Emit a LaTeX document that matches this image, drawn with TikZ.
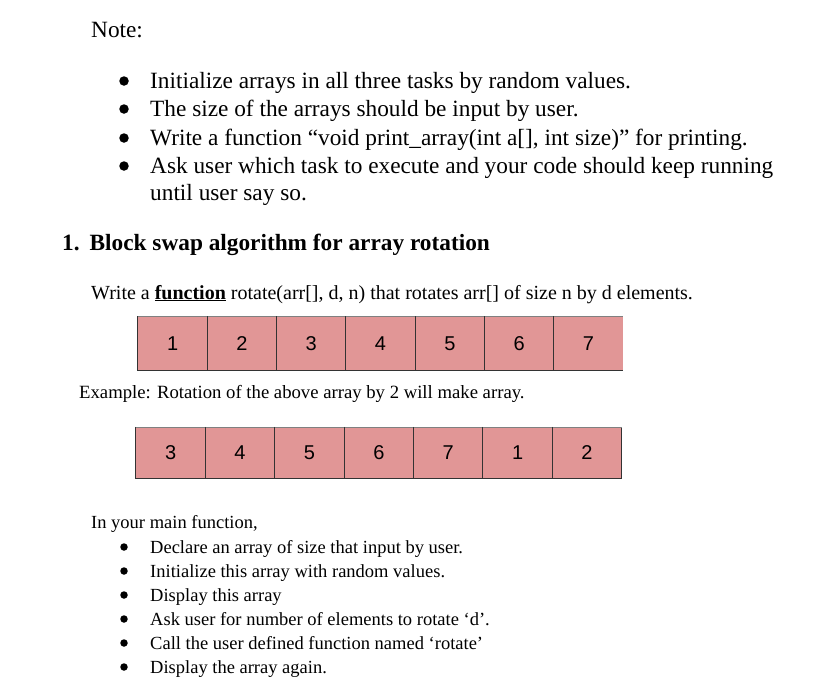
\documentclass[tikz,border=0pt]{standalone}
\usepackage{fontspec}
\setmainfont{Liberation Serif}
\newfontfamily\digitfont{Liberation Sans}
\definecolor{cellred}{RGB}{225,150,150}
\tikzset{
 big/.style={anchor=base west,inner sep=0pt,font=\fontsize{23.3}{26}\selectfont},
 small/.style={anchor=base west,inner sep=0pt,font=\fontsize{18.5}{20}\selectfont},
 cell/.style={fill=cellred,minimum width=69.3pt,minimum height=54pt,inner sep=0pt,font=\digitfont\fontsize{20}{22}\selectfont},
 dot/.style={circle,fill=black,inner sep=0pt,minimum size=9.5pt},
 sdot/.style={circle,fill=black,inner sep=0pt,minimum size=7.5pt},
}
\begin{document}
\begin{tikzpicture}[x=1pt,y=-1pt]
\useasboundingbox[fill=white] (0,0) rectangle (826,689);
\node[big] (note) at (91,37) {Note:};
\node[dot] (d1) at (124,81) {};
\node[big] (b1) at (150,88) {Initialize arrays in all three tasks by random values.};
\node[dot] (d2) at (124,109) {};
\node[big] (b2) at (150,116) {The size of the arrays should be input by user.};
\node[dot] (d3) at (124,138) {};
\node[big] (b3) at (150,145) {Write a function “void print\_array(int a[], int size)” for printing.};
\node[dot] (d4) at (124,166) {};
\node[big] (b4) at (150,173) {Ask user which task to execute and your code should keep running};
\node[big] (b5) at (150,200) {until user say so.};
\node[big,font=\bfseries\fontsize{23.3}{26}\selectfont] (h) at (62,250) {1.\hspace{10pt}Block swap algorithm for array rotation};
\node[small,font=\fontsize{20}{22}\selectfont] (w) at (91,299) {Write a \textbf{\underline{function}} rotate(arr[], d, n) that rotates arr[] of size n by d elements.};
\foreach \v [count=\i] in {1,...,7}{
 \node[cell] (a\i) at ({138+34.65+(\i-1)*69.3},343.5) {\v};
}
\draw[line width=1pt,black!80] (a1.north west) -- (a1.south west) -- (a7.south east);
\draw[line width=0.4pt,black!50] (a1.north west) -- (a7.north east);
\foreach \i in {2,...,7}{\draw[line width=1pt,black!80] (a\i.north west) -- (a\i.south west);}
\node[small,font=\fontsize{18.7}{20}\selectfont] (ex) at (79,398) {Example: Rotation of the above array by 2 will make array.};
\foreach \v [count=\i] in {3,4,5,6,7,1,2}{
 \node[cell,minimum height=51pt] (c\i) at ({136+34.65+(\i-1)*69.4},452.5) {\v};
}
\draw[line width=1pt,black!80] (c1.north west) -- (c1.south west) -- (c7.south east) -- (c7.north east);
\draw[line width=0.4pt,black!50] (c1.north west) -- (c7.north east);
\foreach \i in {2,...,7}{\draw[line width=1pt,black!80] (c\i.north west) -- (c\i.south west);}
\node[small] (m) at (91,528) {In your main function,};
\foreach \t [count=\i] in {Declare an array of size that input by user.,Initialize this array with random values.,Display this array,Ask user for number of elements to rotate ‘d’.,Call the user defined function named ‘rotate’,Display the array again.}{
 \node[sdot] (s\i) at (124,{547+(\i-1)*24}) {};
 \node[small] (l\i) at (150,{553+(\i-1)*24}) {\t};
}
\end{tikzpicture}
\end{document}
